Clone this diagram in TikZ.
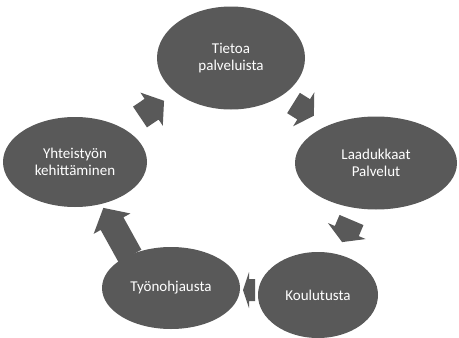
\documentclass[tikz,border=0pt]{standalone}
\usepackage{fontspec}
\setmainfont{Carlito}
\usetikzlibrary{shapes.geometric}
\definecolor{cyclegray}{HTML}{595959}
\tikzset{
  stage/.style={ellipse, fill=cyclegray, text=white, inner sep=0pt,
    align=center, font=\fontsize{15}{17}\selectfont},
  flow/.style={fill=cyclegray},
}
% block arrow: #1 back-centre, #2 angle, #3 length, #4 head length,
% #5 head half-width, #6 shaft half-width
\newcommand\cyclearrow[6]{%
  \fill[flow, shift={#1}, rotate=#2]
    (0,-#6) -- ({#3-#4},-#6) -- ({#3-#4},-#5) -- (#3,0)
    -- ({#3-#4},#5) -- ({#3-#4},#6) -- (0,#6) -- cycle;}
\begin{document}
\begin{tikzpicture}[x=1pt,y=-1pt]
\useasboundingbox (0,0) rectangle (459,338);

% flow arrows between the stages
\cyclearrow{(140,117)}{34}{29}{15}{20}{12.5}
\cyclearrow{(293.5,103)}{-32}{24}{12}{20}{12}
\cyclearrow{(351.5,220)}{-113}{24}{12}{20.5}{13}
\cyclearrow{(255,290)}{180}{12}{6}{18}{11}
\cyclearrow{(130,256)}{119}{55}{18}{21}{13}

% stages of the cycle
\node[stage, minimum width=148pt, minimum height=103pt] (e1) at (231,58) {Tietoa\\palveluista};
\node[stage, minimum width=162pt, minimum height=93pt] (e2) at (376,163) {Laadukkaat\\Palvelut};
\node[stage, minimum width=120pt, minimum height=86pt] (e3) at (318,295) {Koulutusta};
\node[stage, minimum width=138pt, minimum height=82pt] (e4) at (171,288) {Työnohjausta};
\node[stage, minimum width=144pt, minimum height=90pt] (e5) at (75,162) {Yhteistyön\\kehittäminen};
\end{tikzpicture}
\end{document}
